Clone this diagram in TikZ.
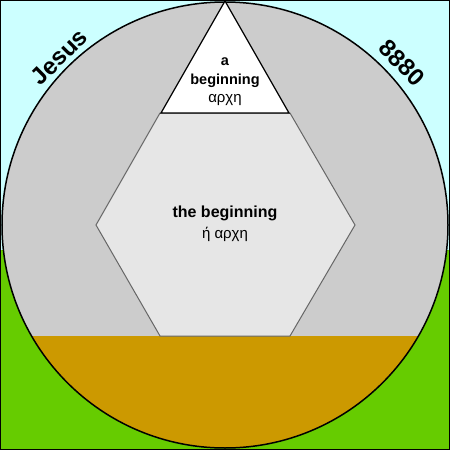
\documentclass[tikz,border=0pt]{standalone}
\usepackage{fontspec}
\setmainfont{Liberation Sans}
\definecolor{sky}{HTML}{CCFFFF}
\definecolor{grass}{HTML}{66CC00}
\definecolor{disc}{HTML}{CCCCCC}
\definecolor{clay}{HTML}{CC9900}
\definecolor{hexfill}{HTML}{E6E6E6}
\definecolor{hexline}{HTML}{666666}

\begin{document}
\begin{tikzpicture}[x=1pt,y=-1pt,
  outer/.style={font=\fontsize{24}{26}\selectfont\bfseries},
  english/.style={inner sep=0pt,font=\fontsize{14.5}{16}\selectfont\bfseries},
  greek/.style={inner sep=0pt,font=\fontsize{15}{16}\selectfont}]
\useasboundingbox (0,0) rectangle (450,450);
\fill[sky] (0,0) rectangle (450,250);
\fill[grass] (0,250) rectangle (450,450);
\fill[disc] (225,225) circle (223pt);
\begin{scope}
\clip (225,225) circle (223pt);
\fill[clay] (0,336) rectangle (450,450);
\end{scope}
\draw[line width=1.5pt] (225,225) circle (223pt);
% the hexagon and the triangle
\draw[hexline,line width=1pt,fill=hexfill] (160,113) -- (290,113) -- (355,225) -- (290,336) -- (160,336) -- (96,225) -- cycle;
\draw[line width=1.2pt,fill=white] (225,1) -- (289,113) -- (161,113) -- cycle;
\node[english] (a) at (225,62) {a};
\node[english] (abeg) at (225,81) {beginning};
\node[greek] (arche) at (225,100) {αρχη};
\node[english,font=\fontsize{16}{18}\selectfont\bfseries] (the) at (225,213) {the beginning};
\node[greek] (harche) at (225,234) {ή αρχη};
\node[outer,rotate=45] (jesus) at (59,57) {Jesus};
\node[outer,rotate=-45] (num) at (402,63) {8880};
\draw[line width=1pt] (0.5,0.5) rectangle (449.5,449.5);
\end{tikzpicture}
\end{document}
